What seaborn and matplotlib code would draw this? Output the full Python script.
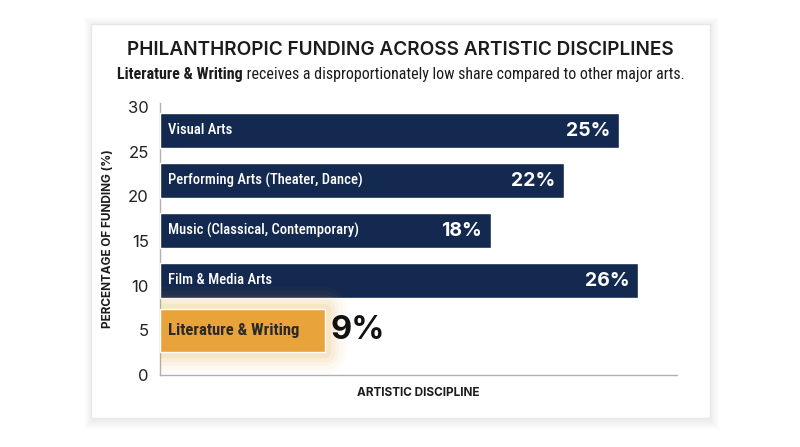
import matplotlib
matplotlib.use("Agg")
import matplotlib.pyplot as plt
import matplotlib.patheffects as pe
from matplotlib.patches import Rectangle
import seaborn as sns
import pandas as pd

# ---- data ----
categories = ["Visual Arts", "Performing Arts (Theater, Dance)",
              "Music (Classical, Contemporary)", "Film & Media Arts",
              "Literature & Writing"]
funding = [25, 22, 18, 26, 9]
value_labels = ["25%", "22%", "18%", "26%", "9%"]
y_ticks = [0, 5, 10, 15, 20, 25, 30]
highlight = "Literature & Writing"

title = "PHILANTHROPIC FUNDING ACROSS ARTISTIC DISCIPLINES"
subtitle_bold = "Literature & Writing"
subtitle_rest = " receives a disproportionately low share compared to other major arts."
y_label = "PERCENTAGE OF FUNDING (%)"
x_label = "ARTISTIC DISCIPLINE"

NAVY = "#13294f"
ORANGE = "#e8a33a"
DARK = "#1c1c1c"

sns.set_theme(style="white")
GEO = ["Inter", "DejaVu Sans"]
COND = ["Roboto Condensed", "Liberation Sans Narrow", "Open Sans", "DejaVu Sans"]
plt.rcParams["font.family"] = GEO

fig = plt.figure(figsize=(8, 4.47), dpi=100, facecolor="white")
W, H = 800, 447

def fx(px):
    return px / W

def fy(py):
    return 1 - py / H

# card with soft shadow
cx0, cx1, cy0, cy1 = 91, 710, 24, 418
for i in range(1, 10):
    fig.add_artist(Rectangle((fx(cx0 - i + 2), fy(cy1 + i + 2)),
                             fx(cx1 - cx0 + 2 * i - 2), (cy1 - cy0 + 2 * i) / H,
                             transform=fig.transFigure, facecolor="#000000",
                             alpha=0.009, edgecolor="none", zorder=-20))
fig.add_artist(Rectangle((fx(cx0), fy(cy1)), fx(cx1 - cx0), (cy1 - cy0) / H,
                         transform=fig.transFigure, facecolor="white",
                         edgecolor="#e8e8e8", linewidth=1, zorder=-10))

# axes geometry
ax_left, ax_right, ax_top, ax_bot = 160, 677, 103, 375
pos = [fx(ax_left), fy(ax_bot), fx(ax_right - ax_left), (ax_bot - ax_top) / H]

ax_num = fig.add_axes(pos)
ax_num.patch.set_alpha(0)
ax_num.set_ylim(0, 30.45)
ax_num.set_xlim(0, 1)
ax_num.set_yticks(y_ticks)
ax_num.set_yticklabels([str(t) for t in y_ticks])
ax_num.set_xticks([])
ax_num.tick_params(axis="y", length=0, pad=8, labelsize=12, labelcolor="#222222")
for s in ["top", "right"]:
    ax_num.spines[s].set_visible(False)
for s in ["left", "bottom"]:
    ax_num.spines[s].set_color("#b0b0b0")
    ax_num.spines[s].set_linewidth(1)
ax_num.set_ylabel(y_label, fontsize=8.5, fontweight="bold", color=DARK, labelpad=10)
ax_num.set_xlabel(x_label, fontsize=8.5, fontweight="bold", color=DARK, labelpad=9)

ax = fig.add_axes(pos)
ax.patch.set_alpha(0)
df = pd.DataFrame({"discipline": categories, "funding": funding})
palette = {c: (ORANGE if c == highlight else NAVY) for c in categories}
sns.barplot(data=df, y="discipline", x="funding", hue="discipline",
            palette=palette, order=categories, orient="h", width=0.7,
            saturation=1, legend=False, ax=ax)
ax.set_ylim(4.89, -0.55)
ax.set_xlim(0, 28.15)
ax.set_axis_off()

hi_idx = categories.index(highlight)
bars = ax.patches
hb = bars[hi_idx]
hb.set_height(0.86)
hb.set_y(hi_idx - 0.43)
glow = [pe.Stroke(linewidth=w, foreground=ORANGE, alpha=a, joinstyle="round")
        for w, a in [(32, 0.03), (26, 0.04), (20, 0.05), (14, 0.07), (8, 0.1)]]
hb.set_path_effects(glow + [pe.Normal()])

for i, (c, v, lab) in enumerate(zip(categories, funding, value_labels)):
    if c == highlight:
        ax.annotate(c, xy=(0, i), xytext=(6, 0), textcoords="offset points",
                    ha="left", va="center", color="#2a2a2a", fontsize=12,
                    fontweight="bold", family=COND)
        ax.annotate(lab, xy=(v, i), xytext=(4, 0), textcoords="offset points",
                    ha="left", va="center", color="#111111", fontsize=23.5,
                    fontweight="bold")
    else:
        ax.annotate(c, xy=(0, i), xytext=(6, 0), textcoords="offset points",
                    ha="left", va="center", color="white", fontsize=10.5,
                    fontweight="medium", family=COND)
        ax.annotate(lab, xy=(v, i), xytext=(-6, 0), textcoords="offset points",
                    ha="right", va="center", color="white", fontsize=14,
                    fontweight="bold")

# title & subtitle
fig.text(0.5, fy(50), title, ha="center", va="center", fontsize=13.7,
         fontweight="semibold", color=DARK)
r = fig.canvas.get_renderer()
t1 = fig.text(0, fy(75), subtitle_bold, ha="left", va="center", fontsize=11.5,
              fontweight="bold", color=DARK, family=COND)
t2 = fig.text(0, fy(75), subtitle_rest, ha="left", va="center", fontsize=11.5,
              color=DARK, family=COND)
w1 = t1.get_window_extent(r).width
w2 = t2.get_window_extent(r).width
start = (W - (w1 + w2)) / 2 + 1
t1.set_x(fx(start))
t2.set_x(fx(start + w1))

fig.savefig("out.png", dpi=100, facecolor="white")
